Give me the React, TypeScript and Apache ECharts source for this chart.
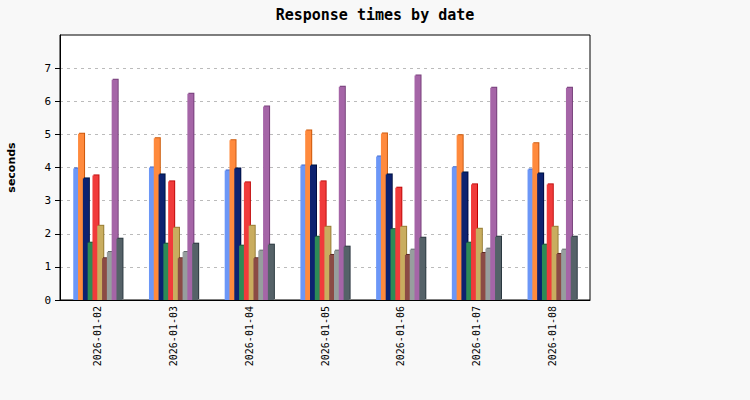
import React, { useEffect, useRef } from "react";
import * as echarts from "echarts";

const categories = ["2026-01-02", "2026-01-03", "2026-01-04", "2026-01-05", "2026-01-06", "2026-01-07", "2026-01-08"];
const yTicks = [0, 1, 2, 3, 4, 5, 6, 7, 8];

const s1 = [3.97, 4.0, 3.91, 4.06, 4.33, 4.01, 3.94];
const s2 = [5.02, 4.88, 4.82, 5.12, 5.03, 4.97, 4.73];
const s3 = [3.67, 3.79, 3.97, 4.06, 3.79, 3.85, 3.82];
const s4 = [1.73, 1.7, 1.64, 1.91, 2.14, 1.73, 1.67];
const s5 = [3.76, 3.58, 3.55, 3.58, 3.39, 3.49, 3.49];
const s6 = [2.24, 2.18, 2.24, 2.21, 2.21, 2.15, 2.21];
const s7 = [1.26, 1.26, 1.26, 1.36, 1.36, 1.42, 1.39];
const s8 = [1.45, 1.45, 1.49, 1.49, 1.52, 1.55, 1.52];
const s9 = [6.65, 6.23, 5.84, 6.44, 6.78, 6.41, 6.41];
const s10 = [1.85, 1.7, 1.67, 1.61, 1.88, 1.91, 1.91];

const seriesData = [s1, s2, s3, s4, s5, s6, s7, s8, s9, s10];
const fillColors = ["#6c97f7", "#ff8a3d", "#0b2370", "#2e8b57", "#f03a3a", "#c9ad5f", "#8b4b45", "#979e9e", "#a565a7", "#556268"];
const edgeColors = ["#3a66cc", "#cc5500", "#000a40", "#1a5a36", "#c00000", "#957c30", "#5a2a26", "#646c6c", "#743e78", "#2c3840"];

export default function App() {
  const ref = useRef<HTMLDivElement>(null);
  useEffect(() => {
    document.body.style.margin = "0";
    document.body.style.background = "#f8f8f8";
    const chart = echarts.init(ref.current!, null, { renderer: "svg" });
    chart.setOption({
      animation: false,
      backgroundColor: "#f8f8f8",
      title: {
        text: "Response times by date",
        left: "center",
        top: 2,
        textStyle: { fontFamily: "DejaVu Sans Mono", fontWeight: "bold", fontSize: 15, color: "#000" },
      },
      grid: {
        left: 60,
        top: 35,
        width: 530,
        height: 265,
        outerBoundsMode: "none",
        containLabel: false,
        show: true,
        backgroundColor: "#ffffff",
        borderColor: "#000",
        borderWidth: 1,
      },
      xAxis: {
        type: "category",
        data: categories,
        axisLine: { lineStyle: { color: "#000", width: 1 } },
        axisTick: { show: false },
        axisLabel: {
          rotate: 90,
          margin: 6,
          fontFamily: "DejaVu Sans Mono",
          fontSize: 10,
          color: "#000",
        },
      },
      yAxis: {
        type: "value",
        min: yTicks[0],
        max: yTicks[yTicks.length - 1],
        interval: 1,
        name: "seconds",
        nameLocation: "middle",
        nameGap: 43,
        nameRotate: 90,
        nameTextStyle: { fontFamily: "DejaVu Sans", fontWeight: "bold", fontSize: 11, color: "#000" },
        axisLine: { show: true, lineStyle: { color: "#000", width: 1 } },
        axisTick: { show: true, length: 5, lineStyle: { color: "#000" } },
        axisLabel: {
          showMaxLabel: false,
          margin: 9,
          fontFamily: "DejaVu Sans Mono",
          fontSize: 11,
          color: "#000",
        },
        splitLine: { show: true, showMaxLine: false, showMinLine: false, lineStyle: { color: "#bbbbbb", type: [3, 4], width: 1 } },
      },
      series: seriesData.map((d, i) => ({
        type: "bar",
        data: d,
        barWidth: 6,
        barGap: "-20%",
        itemStyle: {
          color: fillColors[i],
          shadowColor: edgeColors[i],
          shadowBlur: 0,
          shadowOffsetX: 1,
          shadowOffsetY: -1,
        },
      })),
    });
    return () => chart.dispose();
  }, []);
  return <div ref={ref} style={{ width: 750, height: 400 }} />;
}
